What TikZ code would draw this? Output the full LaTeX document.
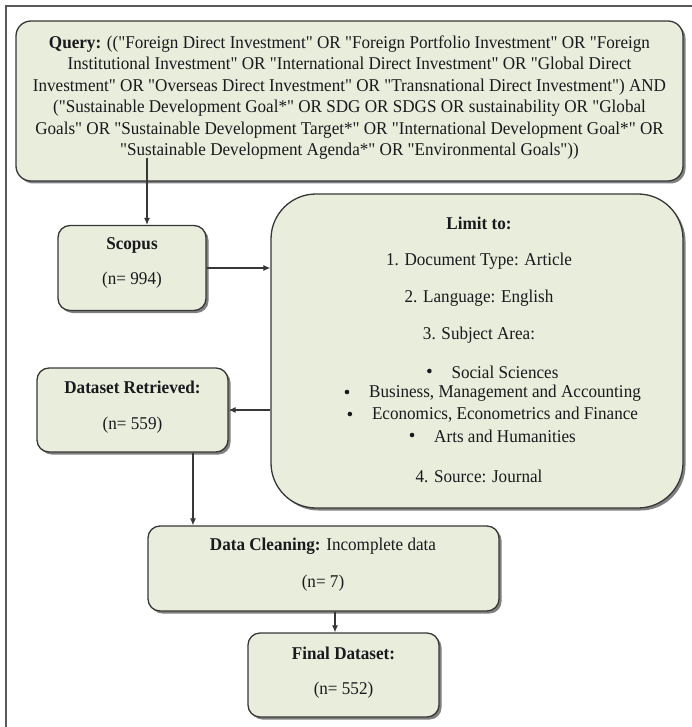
\documentclass[tikz,border=0pt]{standalone}
\usepackage{fontspec}
\setmainfont{Liberation Serif}[Ligatures=TeXOff, FakeStretch=0.95]
\usetikzlibrary{shadows,arrows.meta}
\definecolor{boxfill}{RGB}{233,237,220}
\definecolor{boxline}{RGB}{55,55,55}
\definecolor{txtcol}{RGB}{25,25,30}
\begin{document}
\begin{tikzpicture}[x=1pt,y=-1pt,
  box/.style={draw=boxline, line width=1.3pt, fill=boxfill, rounded corners=12pt,
    drop shadow={shadow xshift=2.5pt, shadow yshift=-2.5pt, fill=black!50, opacity=1}},
  txt/.style={font=\fontsize{18}{21.5}\selectfont, text=txtcol, inner sep=0pt, align=center},
  dot/.style={circle, fill=txtcol, inner sep=0pt, minimum size=4.6pt},
  arr/.style={draw=boxline, line width=1.1pt, -{Latex[length=7pt,width=6pt]}},
  frame/.style={draw=black!65, line width=1.6pt}]
\useasboundingbox (0,0) rectangle (692,727);
\draw[frame] (6,727) -- (6,6) -- (692,6);
% boxes
\node[box, rounded corners=15pt, minimum width=667pt, minimum height=160pt] (query) at (349.5,101) {};
\node[box, minimum width=148pt, minimum height=85pt] (scopus) at (132,268) {};
\node[box, rounded corners=45pt, minimum width=412pt, minimum height=314pt] (limit) at (477,351) {};
\node[box, minimum width=191pt, minimum height=84pt] (dataset) at (132.5,410) {};
\node[box, minimum width=351pt, minimum height=85pt] (cleaning) at (323.5,568.5) {};
\node[box, minimum width=191pt, minimum height=84pt] (final) at (343.5,675) {};
% texts
\node[txt] (qtext) at (349.5,97.5) {\textbf{Query:} (("Foreign Direct Investment" OR "Foreign Portfolio Investment" OR "Foreign\\
Institutional Investment" OR "International Direct Investment" OR "Global Direct\\
Investment" OR "Overseas Direct Investment" OR "Transnational Direct Investment") AND\\
("Sustainable Development Goal*" OR SDG OR SDGS OR sustainability OR "Global\\
Goals" OR "Sustainable Development Target*" OR "International Development Goal*" OR\\
"Sustainable Development Agenda*" OR "Environmental Goals"))};
\node[txt] (s1) at (132,245) {\textbf{Scopus}};
\node[txt] (s2) at (132,280) {(n= 994)};
\node[txt] (l0) at (479,223) {\textbf{Limit to:}};
\node[txt] (l1) at (479,261) {1. Document Type: Article};
\node[txt] (l2) at (479,298) {2. Language: English};
\node[txt] (l3) at (479,335) {3. Subject Area:};
\node[txt] (b1) at (505,372) {Social Sciences};
\node[txt] (b2) at (505,393) {Business, Management and Accounting};
\node[txt] (b3) at (505,415) {Economics, Econometrics and Finance};
\node[txt] (b4) at (505,436) {Arts and Humanities};
\foreach \b in {b1,b2,b3,b4}{
  \node[dot] (dot\b) at ([xshift=-22pt,yshift=1pt]\b.west) {};
}
\node[txt] (l4) at (479,476) {4. Source: Journal};
\node[txt] (d1) at (132.5,387) {\textbf{Dataset Retrieved:}};
\node[txt] (d2) at (132.5,425) {(n= 559)};
\node[txt] (c1) at (323,546) {\textbf{Data Cleaning:} Incomplete data};
\node[txt] (c2) at (323,583) {(n= 7)};
\node[txt] (f1) at (343.5,653) {\textbf{Final Dataset:}};
\node[txt] (f2) at (343.5,690) {(n= 552)};
% connectors
\coordinate (qa) at (147,158);
\draw[arr] (qa) -- (qa |- scopus.north);
\draw[arr] (scopus.east) -- (scopus.east -| limit.west);
\draw[arr] (dataset.east -| limit.west) -- (dataset.east);
\coordinate (da) at ([xshift=60.5pt]dataset.south);
\draw[arr] (da) -- (da |- cleaning.north);
\coordinate (ca) at ([xshift=11.5pt]cleaning.south);
\draw[arr] (ca) -- (ca |- final.north);
\end{tikzpicture}
\end{document}
